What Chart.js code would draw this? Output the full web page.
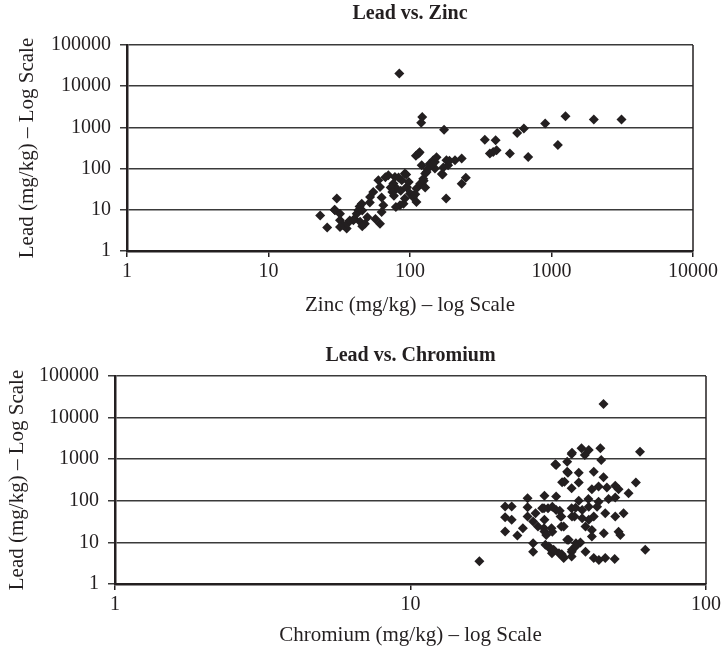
<!DOCTYPE html>
<html>
<head>
<meta charset="utf-8">
<script src="https://cdn.jsdelivr.net/npm/chart.js@4.4.0/dist/chart.umd.min.js"></script>
<style>
    body { margin: 0; background: #fff; }
    canvas { position: absolute; left: 0; }
</style>
</head>
<body>
<canvas id="chartZinc" width="724" height="325" style="top:0"></canvas>
<canvas id="chartChromium" width="724" height="324" style="top:325px"></canvas>
<script>
// Ticks de los ejes (escala log)
const zincTicks = [1, 10, 100, 1000, 10000];
const leadTicks = [1, 10, 100, 1000, 10000, 100000];
const chromiumTicks = [1, 10, 100];

// Lead vs. Zinc
const zincMgKg = [84, 122, 120, 174, 338, 403, 409, 367, 387, 508, 684, 572, 638, 902, 1109, 1256, 1991, 3124,
    115, 121, 138, 146, 150, 128, 121, 105, 92, 85, 92, 170, 181, 186, 208, 232, 232, 248, 180,
    23.2, 26, 30.4, 29.5, 32, 33.8, 35.7, 39.8, 44.4, 43.2, 45.6, 52.2, 55, 59.8, 61.4, 61.4, 64.8,
    70.3, 76.3, 80.5, 78.3, 87.4, 94, 79.5, 94.8, 100, 105, 111, 118, 124, 131, 142, 150, 111,
    36, 37.5, 40.5, 42, 46, 48, 46, 50, 52, 57, 63, 63, 67, 73, 75, 77, 83, 86, 90, 95, 98, 109,
    110, 117, 125, 128, 133, 154, 168, 172, 190, 32, 32, 29.3, 44];
const leadZinc = [20200, 1780, 1300, 880, 500, 486, 278, 231, 253, 231, 191, 731, 934, 1237, 374, 1858, 1545, 1545,
    231, 120, 132, 159, 100, 76, 43, 22.5, 18.7, 12.9, 76, 71.5, 159, 120, 159, 175, 43, 60, 18.7,
    7.3, 3.7, 18.7, 9.7, 5.6, 4.2, 3.5, 5.6, 5.1, 9.7, 14.1, 20.4, 27, 52, 35.7, 4.6, 12.9,
    68.8, 43.3, 32.7, 62.5, 52, 72, 11.7, 35.7, 24.7, 20.5, 32.7, 43, 57, 82.6, 120, 145, 15.5,
    4.6, 5.5, 6.1, 8, 9.6, 4.6, 4, 6.6, 15, 6, 20, 8.8, 62, 35, 27, 22, 61, 29, 14, 35, 47, 24,
    205, 250, 51, 35, 98, 188, 74, 107, 155, 8, 3.8, 10, 12];

// Lead vs. Chromium
const chromiumMgKg = [17.1, 20.9, 22.0, 20.9, 22.0, 20.9, 23, 24, 24.9, 24.9, 24.9, 26, 26, 26, 26.5, 27, 27.9,
    28.4, 28.4, 28.4, 28.6, 29.2, 29.5, 30, 30.1, 31.1, 31.1, 31.1, 31.8, 32.4, 32.4, 32.6, 32.8,
    33.9, 33.9, 34.3, 35.1, 35.1, 35.1, 35.1, 35.1, 35.9, 36.3,
    45, 35.2, 37.9, 40.1, 38.9, 43.9, 44.2, 59.8, 30.9, 34.1, 37.1, 41.7, 45, 33.2, 37.1, 57.9,
    41.1, 43.3, 46.2, 49.3, 50.6, 54.7, 37.1, 40, 43.3, 46.8, 49.3, 28.3, 30.2, 32, 36.2, 38.1,
    40.1, 42.8, 45.6, 52.6, 49.3, 32.2, 35.2, 38.1, 40.1, 41.7, 33, 39.1, 41.1, 45.1, 50.6, 51.3,
    28.3, 28.8, 30.2, 33.9, 37.6, 41.1, 35.2, 39.1, 36.2, 29.4, 30.5, 32.5, 33, 41.7, 43.4, 45.6,
    49.1, 62.3];
const leadChromium = [3.5, 72.6, 72.6, 40, 35, 18.2, 14.6, 22, 115, 70, 42, 32, 9.6, 6, 50, 24, 66,
    133, 35, 18.3, 8.8, 66, 7.3, 22, 5.5, 126, 726, 60, 5.5, 42, 24, 279, 4.6,
    871, 501, 11.5, 1333, 200, 6, 66, 4.6, 42, 9.6,
    21100, 1434, 1824, 1660, 1260, 1824, 955, 1514, 755, 474, 474, 501, 368, 289, 274, 274,
    190, 220, 210, 230, 190, 152, 100, 110, 95, 110, 120, 66, 72, 58, 67.6, 60,
    72, 72, 50, 50, 42, 42, 42, 38, 35, 42, 24, 24, 20, 16.7, 18, 15,
    22, 15, 18, 11.5, 10, 13.8, 6.7, 6, 8, 8, 6.7, 5.2, 4.2, 4.2, 3.8, 4.2,
    4, 6.7];

const negro = '#231f20';
const fuente = '"Liberation Serif", "Times New Roman", serif';

// Titulo centrado sobre el area del grafico y borde derecho
const marco = {
    id: 'marco',
    afterDraw(chart, args, opts) {
        const { ctx, chartArea: a } = chart;
        ctx.save();
        ctx.strokeStyle = negro;
        ctx.lineWidth = 1.5;
        ctx.beginPath();
        ctx.moveTo(a.right, a.top);
        ctx.lineTo(a.right, a.bottom);
        ctx.stroke();
        ctx.fillStyle = negro;
        ctx.font = 'bold 20px ' + fuente;
        ctx.textAlign = 'center';
        ctx.textBaseline = 'middle';
        ctx.fillText(opts.text, (a.left + a.right) / 2, opts.y);
        ctx.restore();
    }
};

function scatter(id, xs, ys, xTicks, xMax, xTitulo, titulo, cfg) {
    new Chart(document.getElementById(id), {
        type: 'scatter',
        data: {
            datasets: [{
                data: xs.map((x, i) => ({ x: x, y: ys[i] })),
                pointStyle: 'rectRot',
                pointRadius: 5,
                pointBorderWidth: 0,
                backgroundColor: negro,
                borderColor: negro
            }]
        },
        options: {
            responsive: false,
            animation: false,
            layout: { padding: { top: cfg.top, right: cfg.right, left: 0, bottom: 0 } },
            plugins: {
                legend: { display: false },
                tooltip: { enabled: false },
                marco: { text: titulo, y: cfg.tituloY }
            },
            scales: {
                x: {
                    type: 'logarithmic',
                    min: 1,
                    max: xMax,
                    afterBuildTicks: s => { s.ticks = xTicks.map(v => ({ value: v })); },
                    afterFit: s => { s.height = cfg.xAlto; },
                    ticks: {
                        callback: v => String(v),
                        color: negro,
                        font: { family: fuente, size: 20 },
                        padding: 3,
                        maxRotation: 0
                    },
                    grid: { drawOnChartArea: false, tickLength: 6, color: negro, lineWidth: 1.5 },
                    border: { color: negro, width: 2.5 },
                    title: {
                        display: true,
                        text: xTitulo,
                        color: negro,
                        font: { family: fuente, size: 21 },
                        padding: { top: cfg.xTitPad, bottom: cfg.xTitPad }
                    }
                },
                y: {
                    type: 'logarithmic',
                    min: 1,
                    max: 100000,
                    afterBuildTicks: s => { s.ticks = leadTicks.map(v => ({ value: v })); },
                    afterFit: s => { s.width = cfg.yAncho; },
                    ticks: {
                        callback: v => String(v),
                        color: negro,
                        font: { family: fuente, size: 20 },
                        padding: 9
                    },
                    grid: { color: '#3a3a3a', lineWidth: 1.5, tickLength: 7 },
                    border: { color: negro, width: 2.5 },
                    title: {
                        display: true,
                        text: 'Lead (mg/kg) \u2013 Log Scale',
                        color: negro,
                        font: { family: fuente, size: 21 },
                        padding: { top: cfg.yTitPad, bottom: cfg.yTitPad }
                    }
                }
            }
        },
        plugins: [marco]
    });
}

scatter('chartZinc', zincMgKg, leadZinc, zincTicks, 10000, 'Zinc (mg/kg) \u2013 log Scale', 'Lead vs. Zinc',
    { top: 45, right: 31, xAlto: 74, yAncho: 127, tituloY: 14, xTitPad: 7, yTitPad: 15 });

scatter('chartChromium', chromiumMgKg, leadChromium, chromiumTicks, 100, 'Chromium (mg/kg) \u2013 log Scale', 'Lead vs. Chromium',
    { top: 51, right: 16, xAlto: 65, yAncho: 115, tituloY: 31, xTitPad: 0.5, yTitPad: 5 });
</script>
</body>
</html>
